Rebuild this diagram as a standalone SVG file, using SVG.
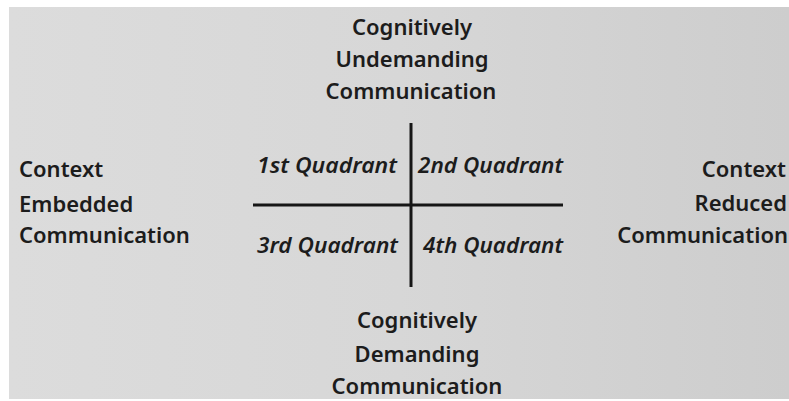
<svg xmlns="http://www.w3.org/2000/svg" width="789" height="401" viewBox="0 0 789 401">
<defs>
<linearGradient id="bg" x1="0" y1="0" x2="1" y2="0">
<stop offset="0" stop-color="#dcdcdc"/>
<stop offset="0.5" stop-color="#d7d7d7"/>
<stop offset="1" stop-color="#cdcdcd"/>
</linearGradient>
<style>
.t{font-family:"Noto Sans","Open Sans",sans-serif;font-weight:600;font-size:22px;fill:#1c1c1c}
.q{font-family:"Noto Sans","Open Sans",sans-serif;font-weight:600;font-style:italic;font-size:21.5px;fill:#1c1c1c}
.ax{stroke:#161616;stroke-width:3;fill:none}
</style>
</defs>
<rect width="789" height="401" fill="#ffffff"/>
<rect x="9" y="7" width="780" height="392" fill="url(#bg)"/>
<g id="connectors">
<line class="ax" x1="411" y1="123" x2="411" y2="287"/>
<line class="ax" x1="253" y1="205" x2="563" y2="205"/>
</g>
<g id="top" class="t" text-anchor="middle">
<text x="412" y="35">Cognitively</text>
<text x="412" y="67">Undemanding</text>
<text x="411" y="99">Communication</text>
</g>
<g id="bottom" class="t" text-anchor="middle">
<text x="417" y="328">Cognitively</text>
<text x="417" y="362">Demanding</text>
<text x="417" y="394">Communication</text>
</g>
<g id="left" class="t">
<text x="19" y="177">Context</text>
<text x="19" y="212">Embedded</text>
<text x="19" y="243">Communication</text>
</g>
<g id="right" class="t" text-anchor="end">
<text x="786" y="177">Context</text>
<text x="787" y="211">Reduced</text>
<text x="788" y="243">Communication</text>
</g>
<g id="q1"><text class="q" x="257" y="173" textLength="140" lengthAdjust="spacingAndGlyphs">1st Quadrant</text></g>
<g id="q2"><text class="q" x="418" y="173" textLength="145" lengthAdjust="spacingAndGlyphs">2nd Quadrant</text></g>
<g id="q3"><text class="q" x="257" y="253" textLength="141" lengthAdjust="spacingAndGlyphs">3rd Quadrant</text></g>
<g id="q4"><text class="q" x="423" y="253" textLength="140" lengthAdjust="spacingAndGlyphs">4th Quadrant</text></g>
</svg>
